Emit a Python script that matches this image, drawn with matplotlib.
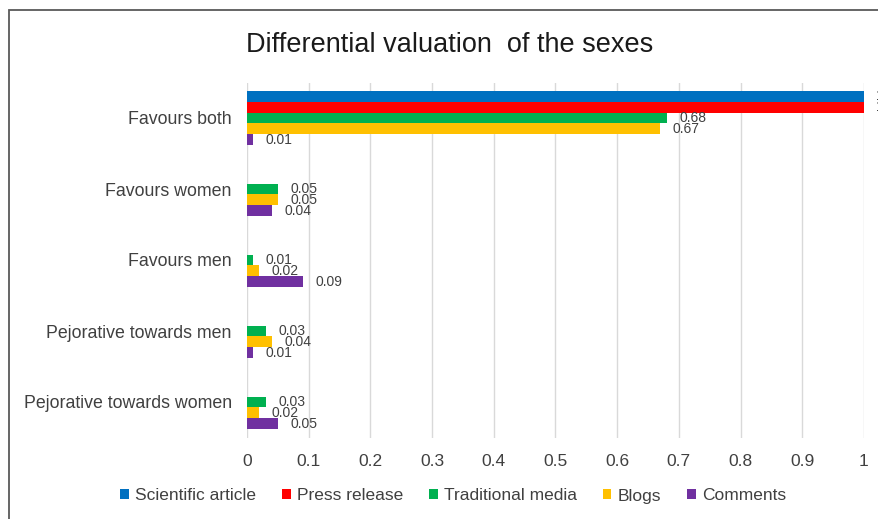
import matplotlib
matplotlib.use("Agg")
import matplotlib.pyplot as plt
from matplotlib.patches import Rectangle
import numpy as np

plt.rcParams['font.family'] = ['Liberation Sans', 'DejaVu Sans']

categories = ["Favours both", "Favours women", "Favours men",
              "Pejorative towards men", "Pejorative towards women"]
series_names = ["Scientific article", "Press release", "Traditional media",
                "Blogs", "Comments"]
scientific_article = [1, 0, 0, 0, 0]
press_release = [1, 0, 0, 0, 0]
traditional_media = [0.68, 0.05, 0.01, 0.03, 0.03]
blogs = [0.67, 0.05, 0.02, 0.04, 0.02]
comments = [0.01, 0.04, 0.09, 0.01, 0.05]
x_ticks = [0, 0.1, 0.2, 0.3, 0.4, 0.5, 0.6, 0.7, 0.8, 0.9, 1]
x_tick_labels = ["0", "0.1", "0.2", "0.3", "0.4", "0.5", "0.6", "0.7", "0.8", "0.9", "1"]

all_series = [scientific_article, press_release, traditional_media, blogs, comments]
colors = ["#0070C0", "#FF0000", "#00B050", "#FFC000", "#7030A0"]

W, H = 879, 519
fig = plt.figure(figsize=(W / 100, H / 100), dpi=100)
ax = fig.add_axes([247 / W, 1 - 437.5 / H, 617 / W, 355 / H])

y = np.arange(len(categories))
h = 0.152
text_col = "#404040"
for i, (vals, name, col) in enumerate(zip(all_series, series_names, colors)):
    pos = y + (i - 2) * h
    ax.barh(pos, vals, height=h, color=col, label=name, zorder=3)
    for p, v in zip(pos, vals):
        if v > 0:
            ax.annotate(f"{v:g}", xy=(v, p), xytext=(9, 0), textcoords="offset points",
                        ha="left", va="center", fontsize=10, color=text_col,
                        annotation_clip=False)

ax.set_xlim(0, 1)
ax.set_ylim(len(categories) - 0.5, -0.5)
ax.set_yticks(y)
ax.set_yticklabels(categories, fontsize=12.8, color=text_col)
ax.set_xticks(x_ticks)
ax.set_xticklabels(x_tick_labels, fontsize=12.5, color=text_col)
ax.tick_params(axis="both", length=0)
ax.tick_params(axis="y", pad=11)
ax.tick_params(axis="x", pad=12)
ax.grid(axis="x", color="#D9D9D9", linewidth=1, zorder=0)
for s in ax.spines.values():
    s.set_visible(False)

fig.text(450 / W, 1 - 45 / H, "Differential valuation  of the sexes", ha="center", va="center",
         fontsize=19.5, color="#1a1a1a")

handles, labels = ax.get_legend_handles_labels()
fig.legend(handles, labels, loc="center", bbox_to_anchor=(453 / W, 1 - 496 / H), ncol=5,
           frameon=False, fontsize=12.5, handlelength=0.5, handleheight=0.5,
           handletextpad=0.35, columnspacing=1.5, labelcolor=text_col)

fig.patches.append(Rectangle((9 / W, -0.2), 1.3, 1.2 - 10 / H, transform=fig.transFigure,
                             fill=False, edgecolor="#595959", linewidth=1.3))

fig.savefig("out.png", dpi=100, facecolor="white")
